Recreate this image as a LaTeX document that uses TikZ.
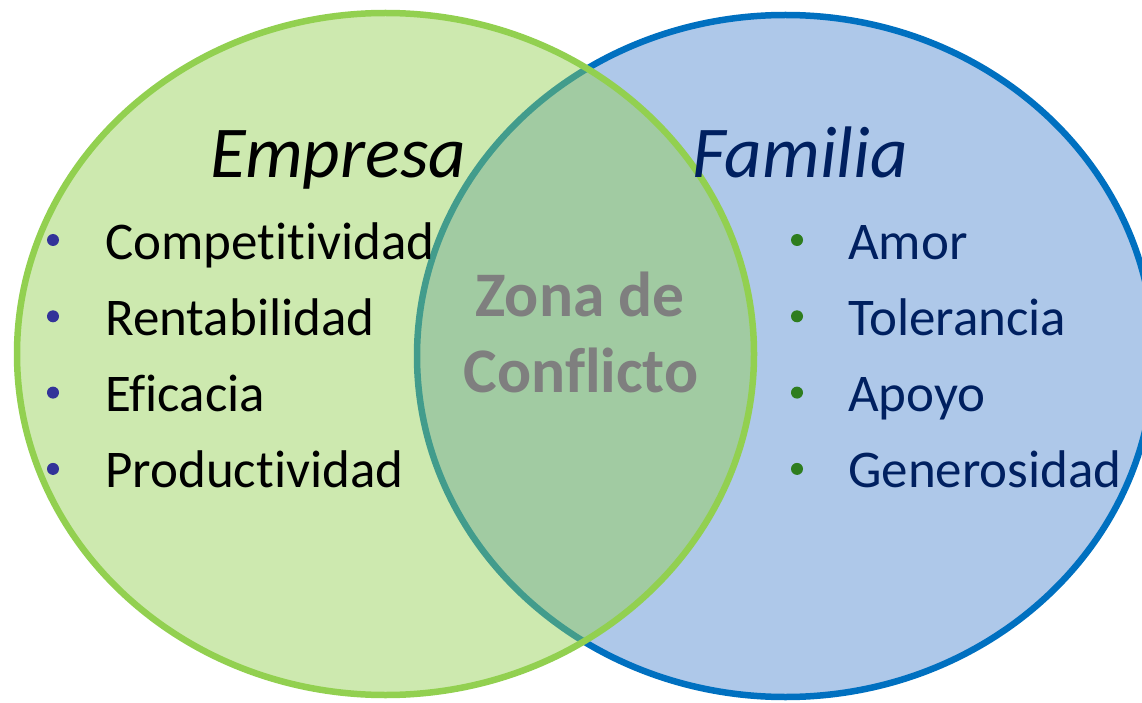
\documentclass[tikz,border=0pt]{standalone}
\usepackage{fontspec}
\setmainfont[Ligatures={NoCommon,NoRare,NoContextual}]{Carlito}
\definecolor{gborder}{HTML}{92D050}
\definecolor{bborder}{HTML}{0070C0}
\definecolor{bfill}{HTML}{AEC8E9}
\definecolor{navy}{HTML}{002060}
\definecolor{lbul}{HTML}{333399}
\definecolor{rbul}{HTML}{2E7D1E}
\definecolor{zgray}{HTML}{7F7F7F}
\begin{document}
\begin{tikzpicture}[x=1pt,y=1pt,
  title/.style={anchor=base west, inner sep=0pt, font=\fontsize{73}{80}\selectfont\itshape},
  item/.style={anchor=base west, inner sep=0pt, font=\fontsize{53}{60}\selectfont},
  bul/.style={circle, inner sep=0pt, minimum size=12pt},
  zona/.style={anchor=base, inner sep=0pt, text=zgray, font=\fontsize{63.5}{70}\selectfont\bfseries}]
\useasboundingbox (0,0) rectangle (1142,-703);
\clip (0,0) rectangle (1142,-703);
% Familia ellipse
\draw[line width=6.5pt, draw=bborder, fill=bfill] (785.5,-356) ellipse [x radius=368.5, y radius=341];
% Empresa ellipse
\fill[gborder, fill opacity=0.46] (385.5,-354) ellipse [x radius=368.5, y radius=341];
\draw[line width=6.5pt, draw=gborder] (385.5,-354) ellipse [x radius=368.5, y radius=341];
% titles
\node[title, text=black] (empresa) at (210,-178) {Empresa};
\node[title, text=navy] (familia) at (692,-178) {Familia};
% left list
\foreach \t [count=\i] in {Competitividad,Rentabilidad,Eficacia,Productividad}{
  \node[bul, fill=lbul] (lb\i) at (53,{-240-76.3*(\i-1)}) {};
  \node[item, text=black] (li\i) at (105,{-259-76.3*(\i-1)}) {\t};
}
% right list
\foreach \t [count=\i] in {Amor,Tolerancia,Apoyo,Generosidad}{
  \node[bul, fill=rbul] (rb\i) at (797,{-240-76.3*(\i-1)}) {};
  \node[item, text=navy] (ri\i) at (848,{-259-76.3*(\i-1)}) {\t};
}
% zone
\node[zona] (z1) at (580,-316) {Zona de};
\node[zona] (z2) at (581,-392) {Conflicto};
\end{tikzpicture}
\end{document}
